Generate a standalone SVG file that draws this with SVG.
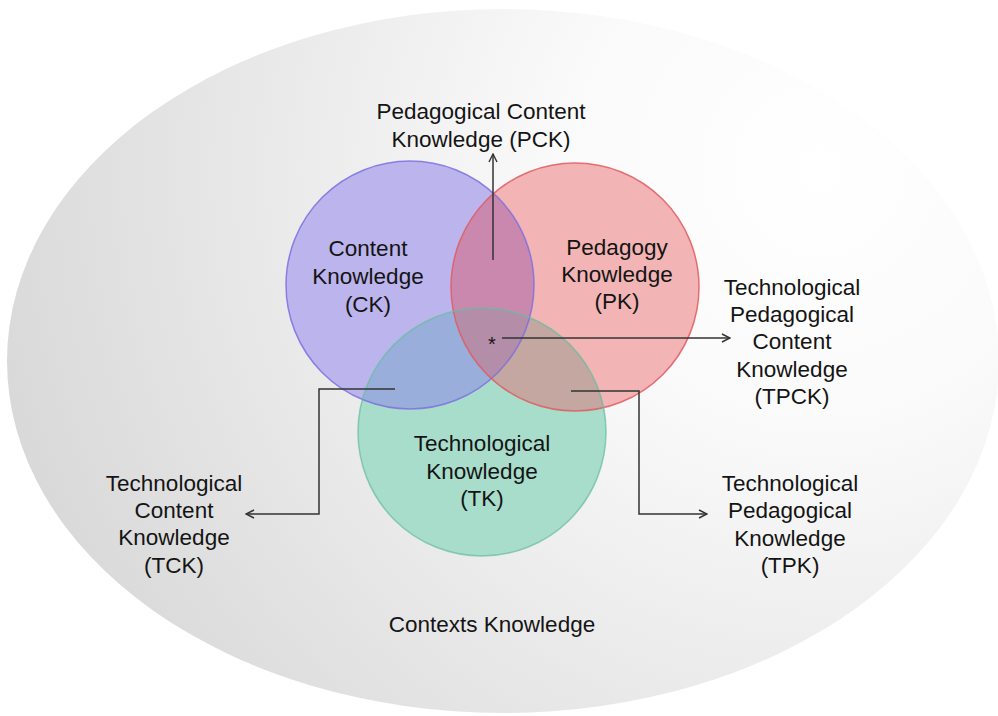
<svg xmlns="http://www.w3.org/2000/svg" width="998" height="716" viewBox="0 0 998 716">
  <style>
    text { font-family: "Liberation Sans", Arial, sans-serif; font-size: 22.5px; fill: #141414; text-anchor: middle; }
    .conn { fill: none; stroke: #333; stroke-width: 1.5; }
    .edge { fill: none; stroke-width: 1.5; }
  </style>
  <defs>
    <radialGradient id="bgGrad" gradientUnits="userSpaceOnUse" cx="820" cy="170" r="860">
      <stop offset="0" stop-color="#ffffff"/>
      <stop offset="0.3" stop-color="#fafafa"/>
      <stop offset="1" stop-color="#d8d8d8"/>
    </radialGradient>
    <clipPath id="clipCK"><circle cx="410" cy="285" r="124"/></clipPath>
    <clipPath id="clipPK"><circle cx="575" cy="287" r="124"/></clipPath>
    <marker id="arrow" viewBox="0 0 10 10" refX="9" refY="5" markerWidth="10" markerHeight="10" markerUnits="userSpaceOnUse" orient="auto">
      <path d="M1,1 L9,5 L1,9" fill="none" stroke="#333" stroke-width="1.4"/>
    </marker>
  </defs>

  <rect width="998" height="716" fill="#ffffff"/>

  <g id="contexts">
    <ellipse cx="503" cy="361" rx="496" ry="352" fill="url(#bgGrad)"/>
    <text x="492" y="632">Contexts Knowledge</text>
  </g>

  <!-- base discs -->
  <g id="ck">
    <circle cx="410" cy="285" r="124" fill="#bcb4ec"/>
  </g>
  <g id="pk">
    <circle cx="575" cy="287" r="124" fill="#f2b4b4"/>
  </g>
  <g id="tk">
    <circle cx="482" cy="432" r="124" fill="#a8dccb"/>
  </g>

  <!-- overlap regions -->
  <g id="overlaps">
    <circle cx="575" cy="287" r="124" fill="#cb88ae" clip-path="url(#clipCK)"/>
    <circle cx="482" cy="432" r="124" fill="#9aaedb" clip-path="url(#clipCK)"/>
    <circle cx="482" cy="432" r="124" fill="#c4a7a0" clip-path="url(#clipPK)"/>
    <g clip-path="url(#clipPK)">
      <circle cx="482" cy="432" r="124" fill="#b48ea8" clip-path="url(#clipCK)"/>
    </g>
  </g>

  <!-- outlines -->
  <g id="outlines">
    <circle class="edge" cx="410" cy="285" r="124" stroke="#7d70e0" stroke-opacity="0.85"/>
    <circle class="edge" cx="575" cy="287" r="124" stroke="#e05a60" stroke-opacity="0.85"/>
    <circle class="edge" cx="482" cy="432" r="124" stroke="#62bd9c" stroke-opacity="0.7"/>
  </g>

  <g id="ck-label">
    <text x="368" y="256">Content</text>
    <text x="368" y="284">Knowledge</text>
    <text x="368" y="312">(CK)</text>
  </g>
  <g id="pk-label">
    <text x="617" y="255">Pedagogy</text>
    <text x="617" y="282">Knowledge</text>
    <text x="617" y="309">(PK)</text>
  </g>
  <g id="tk-label">
    <text x="482" y="451">Technological</text>
    <text x="482" y="479">Knowledge</text>
    <text x="482" y="506">(TK)</text>
  </g>

  <g id="pck">
    <text x="481" y="119">Pedagogical Content</text>
    <text x="481" y="147">Knowledge (PCK)</text>
  </g>
  <g id="tpck">
    <text x="492" y="351" style="font-size:20px">*</text>
    <text x="792" y="295">Technological</text>
    <text x="792" y="322">Pedagogical</text>
    <text x="792" y="349">Content</text>
    <text x="792" y="377">Knowledge</text>
    <text x="792" y="404">(TPCK)</text>
  </g>
  <g id="tck">
    <text x="174" y="491">Technological</text>
    <text x="174" y="518">Content</text>
    <text x="174" y="545">Knowledge</text>
    <text x="174" y="573">(TCK)</text>
  </g>
  <g id="tpk">
    <text x="790" y="491">Technological</text>
    <text x="790" y="518">Pedagogical</text>
    <text x="790" y="546">Knowledge</text>
    <text x="790" y="573">(TPK)</text>
  </g>

  <g id="connectors">
    <path class="conn" d="M493,260 V154" marker-end="url(#arrow)"/>
    <path class="conn" d="M502,338 H730" marker-end="url(#arrow)"/>
    <path class="conn" d="M395,389 H319 V514 H246" marker-end="url(#arrow)"/>
    <path class="conn" d="M571,391 H639 V514 H707" marker-end="url(#arrow)"/>
  </g>
</svg>
